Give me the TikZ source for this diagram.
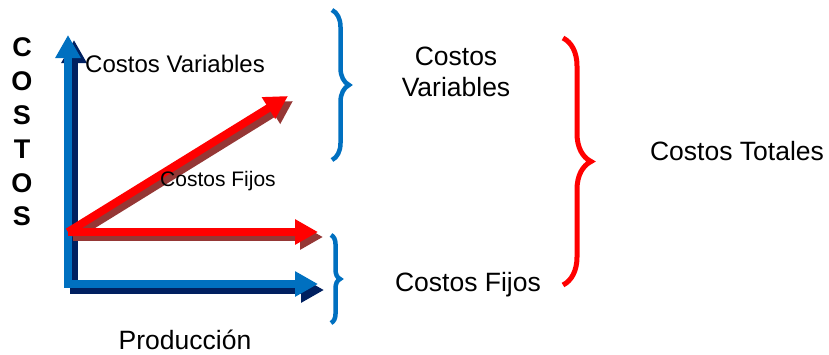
\documentclass[tikz,border=0pt]{standalone}
\usepackage{fontspec}
\setmainfont{Liberation Sans}
\usetikzlibrary{calc,arrows.meta,decorations.pathreplacing}
\definecolor{axisblue}{HTML}{0070C0}
\definecolor{axisnavy}{HTML}{002060}
\definecolor{costred}{HTML}{FF0000}
\definecolor{costbrown}{HTML}{953735}

\begin{document}
\begin{tikzpicture}[x=1pt, y=-1pt,
    fatarrow/.style={line width=8pt, -{Triangle[length=23pt,width=24pt]}},
    cbrace/.style={decorate, decoration={brace, amplitude=#1}, line width=4.5pt},
    bigtext/.style={font=\fontsize{26.5}{31}\selectfont, align=center}]
    \useasboundingbox (0,0) rectangle (829,354);

    \coordinate (ybase) at (68,280);
    \coordinate (ytip) at (68,35);
    \coordinate (xbase) at (64,284);
    \coordinate (xtip) at (318,284);
    \coordinate (origin) at (68,232);
    \coordinate (fixedtip) at (318,232);
    \coordinate (vartip) at (288,96);

    % shadows
    \draw[fatarrow, axisnavy] ($(ybase)+(6,5)$) -- ($(ytip)+(6,5)$);
    \draw[fatarrow, axisnavy] ($(xbase)+(6,6)$) -- ($(xtip)+(6,6)$);
    \draw[fatarrow, costbrown] ($(origin)+(5,5)$) -- ($(fixedtip)+(5,5)$);
    \draw[fatarrow, costbrown] ($(origin)+(5,5)$) -- ($(vartip)+(5,5)$);

    \draw[fatarrow, axisblue] (ybase) -- (ytip);
    \draw[fatarrow, axisblue] (xbase) -- (xtip);
    \draw[fatarrow, costred] (origin) -- (fixedtip);
    \draw[fatarrow, costred] (origin) -- (vartip);

    \node[font=\bfseries\fontsize{27}{33.8}\selectfont, align=center] (costos) at (22,132) {C\\O\\S\\T\\O\\S};
    \node[font=\fontsize{24}{28}\selectfont] (varlabel) at (175,64) {Costos Variables};
    \node[font=\fontsize{21}{25}\selectfont] (fixlabel) at (218,181) {Costos Fijos};
    \node[bigtext] (produccion) at (185,340) {Producción};

    % braces
    \coordinate (vartop) at (332,10);
    \coordinate (varbottom) at (332,160);
    \coordinate (fixtop) at (331,235);
    \coordinate (fixbottom) at (331,323);
    \coordinate (totaltop) at (563,38);
    \coordinate (totalbottom) at (563,285);
    \draw[cbrace=17, axisblue] (vartop) -- (varbottom);
    \draw[cbrace=9, axisblue] (fixtop) -- (fixbottom);
    \draw[cbrace=28, costred, line width=5pt] (totaltop) -- (totalbottom);

    \node[bigtext] (variables) at (456,72) {Costos\\Variables};
    \node[bigtext] (fijos) at (468,285) {Costos Fijos};
    \node[bigtext] (totales) at (737,151) {Costos Totales};

\end{tikzpicture}
\end{document}
